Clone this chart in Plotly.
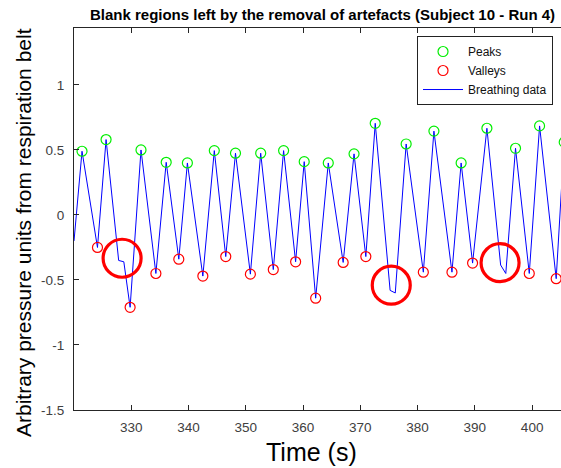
import plotly.graph_objects as go

# ---- data ----
breath_t = [320.0, 321.4, 324.1, 325.6, 327.8, 328.7, 329.8, 331.7, 334.3, 336.1,
            338.3, 339.8, 342.5, 344.5, 346.5, 348.2, 350.8, 352.6, 354.8, 356.6,
            358.7, 360.2, 362.2, 364.4, 367.0, 368.9, 370.96, 372.6, 375.2, 376.1,
            378.0, 381.0, 382.85, 386.0, 387.6, 389.6, 392.1, 394.5, 395.4, 397.1,
            399.5, 401.3, 404.2, 405.6]
breath_v = [-0.20, 0.49, -0.25, 0.58, -0.35, -0.36, -0.71, 0.50, -0.45, 0.405,
            -0.34, 0.40, -0.47, 0.495, -0.32, 0.475, -0.455, 0.475, -0.42, 0.495,
            -0.36, 0.41, -0.64, 0.40, -0.365, 0.47, -0.32, 0.705, -0.58, -0.60,
            0.546, -0.44, 0.645, -0.44, 0.40, -0.37, 0.667, -0.385, -0.45, 0.513,
            -0.45, 0.685, -0.49, 0.56]

peak_t = [321.4, 325.6, 331.7, 336.1, 339.8, 344.5, 348.2, 352.6, 356.6, 360.2,
          364.4, 368.9, 372.6, 378.0, 382.85, 387.6, 392.1, 397.1, 401.3, 405.6]
peak_v = [0.49, 0.58, 0.50, 0.405, 0.40, 0.495, 0.475, 0.475, 0.495, 0.41,
          0.40, 0.47, 0.705, 0.546, 0.645, 0.40, 0.667, 0.513, 0.685, 0.56]

valley_t = [324.1, 329.8, 334.3, 338.3, 342.5, 346.5, 350.8, 354.8, 358.7, 362.2,
            367.0, 370.96, 381.0, 386.0, 389.6, 399.5, 404.2]
valley_v = [-0.25, -0.71, -0.45, -0.34, -0.47, -0.32, -0.455, -0.42, -0.36, -0.64,
            -0.365, -0.32, -0.44, -0.44, -0.37, -0.45, -0.49]

# centres of the highlighted artefact (blank) regions
artefact_t = [328.4, 375.4, 394.4]
artefact_v = [-0.333, -0.54, -0.367]

x_ticks = [330, 340, 350, 360, 370, 380, 390, 400]
y_ticks = [-1.5, -1, -0.5, 0, 0.5, 1]
y_tick_text = ["-1.5", "-1", "-0.5", "0", "0.5", "1"]

FONT = "Liberation Sans, Arial, Helvetica, sans-serif"
AX = "#262626"

fig = go.Figure()
fig.add_trace(go.Scatter(x=breath_t, y=breath_v, mode="lines", name="Breathing data",
                         line=dict(color="#0000ff", width=1), legendrank=3))
fig.add_trace(go.Scatter(x=peak_t, y=peak_v, mode="markers", name="Peaks",
                         marker=dict(symbol="circle-open", size=10, color="#00ee00",
                                     line=dict(width=1.2)), legendrank=1))
fig.add_trace(go.Scatter(x=valley_t, y=valley_v, mode="markers", name="Valleys",
                         marker=dict(symbol="circle-open", size=10, color="#ff0000",
                                     line=dict(width=1.2)), legendrank=2))

for t, v in zip(artefact_t, artefact_v):
    fig.add_shape(type="circle", xref="x", yref="y", xsizemode="pixel", ysizemode="pixel",
                  xanchor=t, yanchor=v, x0=-19, x1=19, y0=-19, y1=19,
                  line=dict(color="#ff0000", width=3.2))

fig.update_layout(
    width=561, height=468,
    margin=dict(l=74, r=0, t=28, b=58),
    paper_bgcolor="white", plot_bgcolor="white",
    font=dict(family=FONT, color=AX),
    showlegend=True,
    legend=dict(x=0.9836, xanchor="right", y=0.979, yanchor="top",
                bgcolor="white", bordercolor="#222", borderwidth=1,
                font=dict(size=12, color="#111"), itemwidth=40,
                tracegroupgap=0),
    title=dict(text="<b>Blank regions left by the removal of artefacts (Subject 10 - Run 4)</b>",
               x=322.5 / 561, xref="container", xanchor="center",
               y=1 - 15 / 468, yref="container", yanchor="middle",
               font=dict(size=15, color="#000")),
    xaxis=dict(range=[320.0, 405.04], tickvals=x_ticks, ticks="inside", ticklen=5,
               tickcolor=AX, showline=True, linecolor=AX, linewidth=1, mirror="ticks",
               showgrid=False, zeroline=False, tickfont=dict(size=13.5, color="#404040"),
               ticklabelstandoff=5),
    yaxis=dict(range=[-1.5, 1.438], tickvals=y_ticks, ticktext=y_tick_text, ticks="inside",
               ticklen=5, tickcolor=AX, showline=True, linecolor=AX, linewidth=1,
               mirror=False, showgrid=False, zeroline=False,
               tickfont=dict(size=13.5, color="#404040"), ticklabelstandoff=6),
    annotations=[
        dict(text="Time (s)", xref="paper", yref="paper", x=(311 - 74) / 487,
             y=(410 - 452) / 382, xanchor="center", yanchor="middle", showarrow=False,
             font=dict(size=25, color="#000")),
        dict(text="Arbitrary pressure units from respiration belt", xref="paper",
             yref="paper", x=(23 - 74) / 487, y=(410 - 233) / 382, xanchor="center",
             yanchor="middle", showarrow=False, textangle=-90,
             font=dict(size=21, color="#000")),
    ],
)

fig.write_html("out.html")
